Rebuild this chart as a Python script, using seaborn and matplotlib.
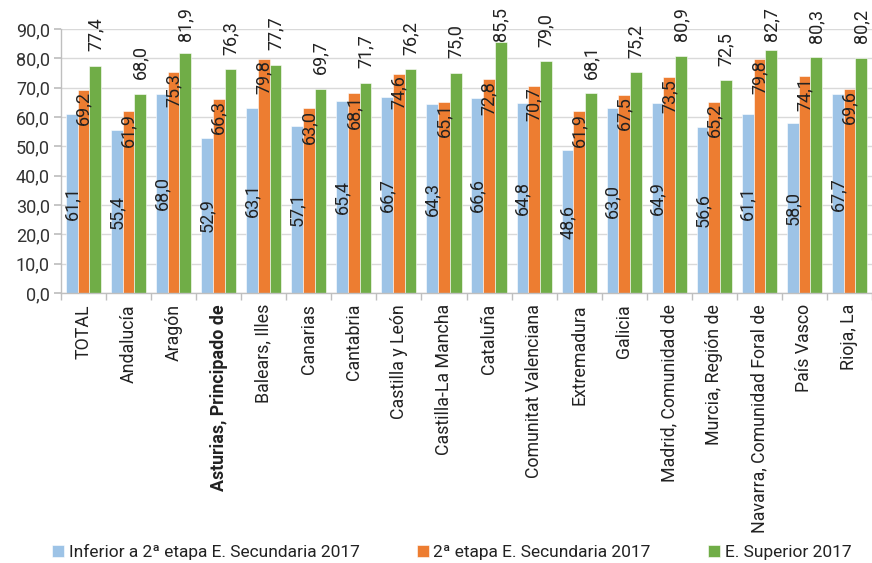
import matplotlib
matplotlib.use("Agg")
import matplotlib.pyplot as plt
import seaborn as sns
import pandas as pd
import numpy as np

categories = ["TOTAL", "Andalucía", "Aragón", "Asturias, Principado de", "Balears, Illes",
              "Canarias", "Cantabria", "Castilla y León", "Castilla-La Mancha", "Cataluña",
              "Comunitat Valenciana", "Extremadura", "Galicia", "Madrid, Comunidad de",
              "Murcia, Región de", "Navarra, Comunidad Foral de", "País Vasco", "Rioja, La"]
series_names = ["Inferior a 2ª etapa E. Secundaria 2017",
                "2ª etapa E. Secundaria 2017",
                "E. Superior 2017"]
inferior = [61.1, 55.4, 68.0, 52.9, 63.1, 57.1, 65.4, 66.7, 64.3, 66.6, 64.8, 48.6, 63.0, 64.9, 56.6, 61.1, 58.0, 67.7]
segunda = [69.2, 61.9, 75.3, 66.3, 79.8, 63.0, 68.1, 74.6, 65.1, 72.8, 70.7, 61.9, 67.5, 73.5, 65.2, 79.8, 74.1, 69.6]
superior = [77.4, 68.0, 81.9, 76.3, 77.7, 69.7, 71.7, 76.2, 75.0, 85.5, 79.0, 68.1, 75.2, 80.9, 72.5, 82.7, 80.3, 80.2]
yticks = [0, 10, 20, 30, 40, 50, 60, 70, 80, 90]
colors = ["#9DC3E6", "#ED7D31", "#70AD47"]

sns.set_theme(style="white")
plt.rcParams['font.family'] = ['Roboto', 'DejaVu Sans']

rows = []
for name, vals in zip(series_names, [inferior, segunda, superior]):
    for c, v in zip(categories, vals):
        rows.append({"cat": c, "serie": name, "val": v})
df = pd.DataFrame(rows)

fig = plt.figure(figsize=(8.72, 5.63), dpi=100)
ax = fig.add_axes([61/872, 1-293/563, 811/872, 264/563])
sns.barplot(data=df, x="cat", y="val", hue="serie", palette=colors, order=categories,
            hue_order=series_names, width=0.78, ax=ax, edgecolor="white", linewidth=0.4,
            saturation=1)

ax.set_ylim(0, 90)
ax.set_yticks(yticks)
ax.set_yticklabels([f"{t:.1f}".replace(".", ",") for t in yticks], fontsize=13, color="#333333")
ax.yaxis.grid(True, color="#D9D9D9", linewidth=1)
ax.set_axisbelow(True)
ax.set_xlim(-0.5, len(categories) - 0.5)
ax.set_xlabel("")
ax.set_ylabel("")
for s in ["top", "right"]:
    ax.spines[s].set_visible(False)
for s in ["left", "bottom"]:
    ax.spines[s].set_color("#BFBFBF")
    ax.spines[s].set_linewidth(1)
ax.tick_params(axis="y", length=5, color="#BFBFBF", left=True, pad=3)
ax.set_xticks(range(len(categories)))
ax.set_xticklabels(categories, rotation=90, fontsize=12.8, color="#222222")
ax.tick_params(axis="x", which="major", length=0, pad=8)
ax.set_xticks(np.arange(-0.5, len(categories), 1), minor=True)
ax.tick_params(axis="x", which="minor", length=5, color="#BFBFBF", bottom=True)
for lbl in ax.get_xticklabels():
    if lbl.get_text().startswith("Asturias"):
        lbl.set_fontweight("bold")

fmt = lambda v: f"{v:.1f}".replace(".", ",")
conts = ax.containers
for bar in conts[0]:
    v = bar.get_height()
    ax.text(bar.get_x() + bar.get_width()/2, v/2, fmt(v), rotation=90, ha="center",
            va="center", fontsize=13, color="#222222")
for bar in conts[1]:
    v = bar.get_height()
    ax.annotate(fmt(v), (bar.get_x() + bar.get_width()/2, v), xytext=(0, -1),
                textcoords="offset points", rotation=90, ha="center", va="top",
                fontsize=13, color="#222222")
px_per_unit = 264 / 90
for bar in conts[2]:
    v = bar.get_height()
    # keep label inside the figure (Excel shifts it down when there is no room)
    room_pt = (97.0 - v - 11.0) * px_per_unit * 0.72
    off = max(1.0, min(10.5, room_pt))
    ax.annotate(fmt(v), (bar.get_x() + bar.get_width()/2, v), xytext=(0, off),
                textcoords="offset points", rotation=90, ha="center", va="bottom",
                fontsize=13, color="#222222", annotation_clip=False)

handles, labels = ax.get_legend_handles_labels()
ax.legend_.remove()
fig.legend(handles, labels, loc="center", bbox_to_anchor=(0.518, 1-552/563), ncol=3,
           frameon=False, fontsize=12.5, handlelength=0.7, handleheight=0.7,
           handletextpad=0.25, columnspacing=3.3, labelcolor="#222222")

fig.savefig("out.png", dpi=100)
